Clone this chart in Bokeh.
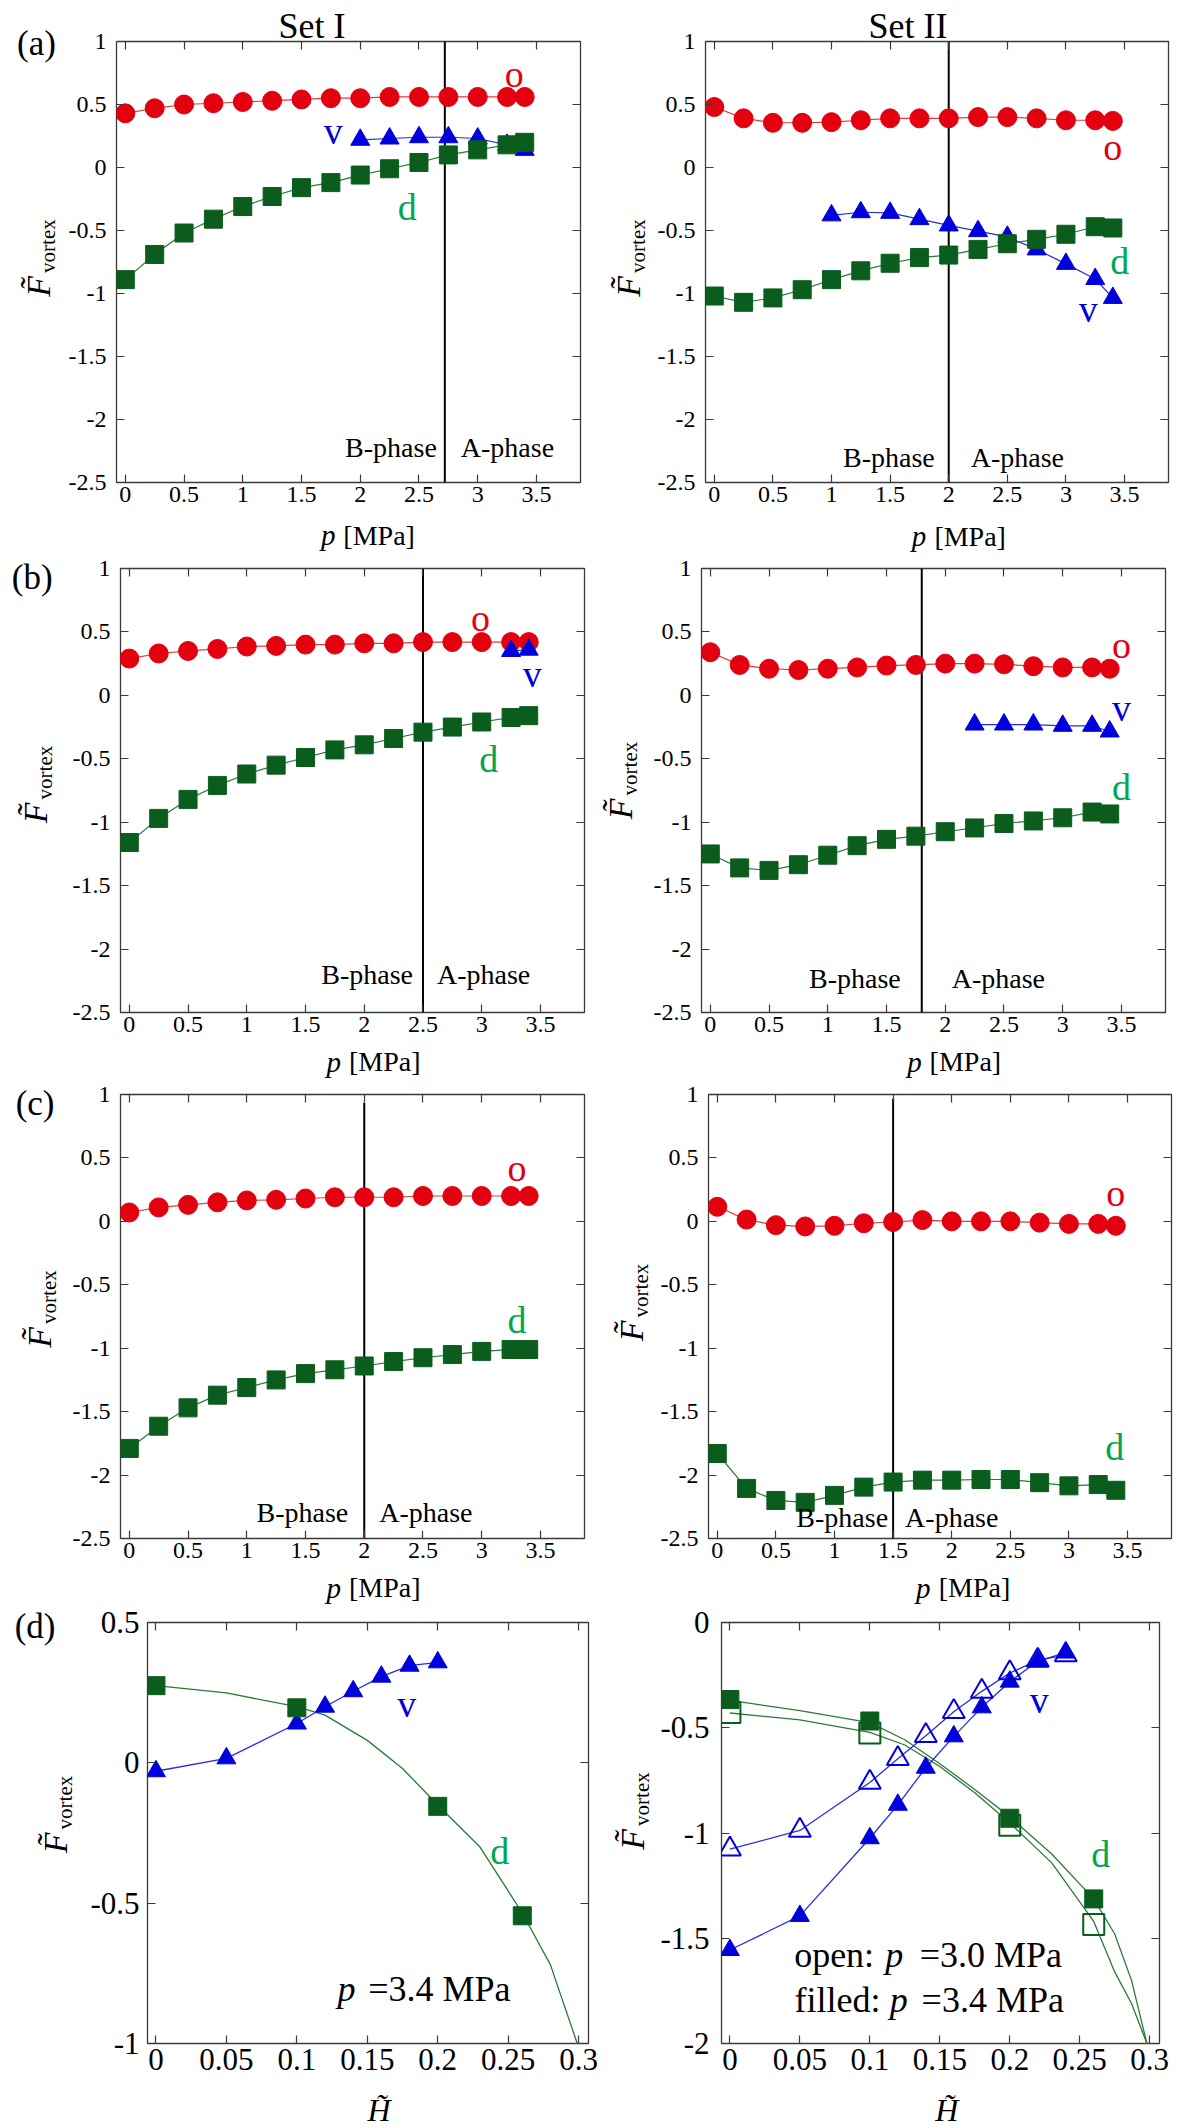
from math import pi

from bokeh.core.properties import value
from bokeh.embed import file_html
from bokeh.layouts import column, row
from bokeh.models import CustomJSTickFormatter, FixedTicker, LinearAxis, Range1d
from bokeh.plotting import figure
from bokeh.resources import INLINE

# ---------------------------------------------------------------- data
# pressure grid [MPa]
P = [0, 0.25, 0.5, 0.75, 1, 1.25, 1.5, 1.75, 2, 2.25, 2.5, 2.75, 3, 3.25, 3.4]

# (a) Set I
a1_o = [0.43, 0.47, 0.50, 0.51, 0.52, 0.53, 0.54, 0.55, 0.55, 0.56, 0.56, 0.56, 0.56, 0.56, 0.56]
a1_d = [-0.89, -0.69, -0.52, -0.41, -0.31, -0.23, -0.16, -0.12, -0.06, -0.01, 0.04, 0.10, 0.14, 0.18, 0.20]
a1_v_p = [2, 2.25, 2.5, 2.75, 3, 3.25, 3.4]
a1_v = [0.22, 0.23, 0.24, 0.24, 0.23, 0.18, 0.14]
a1_pab = 2.72

# (a) Set II
a2_o = [0.48, 0.39, 0.355, 0.355, 0.36, 0.375, 0.39, 0.39, 0.39, 0.40, 0.40, 0.39, 0.375, 0.375, 0.37]
a2_d = [-1.02, -1.07, -1.035, -0.97, -0.89, -0.82, -0.76, -0.715, -0.695, -0.65, -0.605, -0.57, -0.53, -0.47, -0.48]
a2_v_p = [1, 1.25, 1.5, 1.75, 2, 2.25, 2.5, 2.75, 3, 3.25, 3.4]
a2_v = [-0.38, -0.355, -0.36, -0.41, -0.46, -0.505, -0.55, -0.65, -0.765, -0.885, -1.035]
a2_pab = 2.0

# (b) Set I
b1_o = [0.29, 0.33, 0.35, 0.366, 0.385, 0.39, 0.40, 0.40, 0.41, 0.41, 0.42, 0.42, 0.42, 0.42, 0.42]
b1_d = [-1.16, -0.97, -0.82, -0.71, -0.62, -0.55, -0.49, -0.43, -0.39, -0.34, -0.29, -0.25, -0.21, -0.175, -0.16]
b1_v_p = [3.25, 3.4]
b1_v = [0.35, 0.36]
b1_pab = 2.5

# (b) Set II
b2_o = [0.34, 0.24, 0.21, 0.20, 0.21, 0.22, 0.235, 0.24, 0.25, 0.25, 0.245, 0.23, 0.22, 0.22, 0.21]
b2_d = [-1.25, -1.36, -1.38, -1.335, -1.26, -1.185, -1.135, -1.11, -1.075, -1.045, -1.01, -0.99, -0.965, -0.92, -0.935]
b2_v_p = [2.25, 2.5, 2.75, 3, 3.25, 3.4]
b2_v = [-0.23, -0.23, -0.23, -0.24, -0.24, -0.285]
b2_pab = 1.8

# (c) Set I
c1_o = [0.07, 0.11, 0.13, 0.15, 0.165, 0.17, 0.18, 0.19, 0.19, 0.19, 0.20, 0.20, 0.20, 0.20, 0.20]
c1_d = [-1.79, -1.615, -1.47, -1.37, -1.31, -1.25, -1.20, -1.17, -1.14, -1.105, -1.075, -1.05, -1.025, -1.01, -1.01]
c1_pab = 2.0

# (c) Set II
c2_o = [0.115, 0.014, -0.03, -0.04, -0.035, -0.015, -0.005, 0.01, 0.0, 0.0, 0.0, -0.01, -0.02, -0.02, -0.035]
c2_d = [-1.83, -2.105, -2.20, -2.215, -2.16, -2.095, -2.055, -2.04, -2.04, -2.035, -2.035, -2.06, -2.085, -2.075, -2.12]
c2_pab = 1.5

# (d) field dependence, Set I at p = 3.4 MPa
H_sq = [0, 0.1, 0.2, 0.26]
d1_d = [0.275, 0.196, -0.155, -0.545]
d1_H_tri = [0, 0.05, 0.1, 0.12, 0.14, 0.16, 0.18, 0.2]
d1_v = [-0.03, 0.016, 0.14, 0.20, 0.255, 0.307, 0.346, 0.358]
d1_fit_H = [0, 0.05, 0.1, 0.12, 0.15, 0.175, 0.2, 0.23, 0.26, 0.28, 0.299]
d1_fit_d = [0.275, 0.249, 0.20, 0.17, 0.08, -0.02, -0.15, -0.30, -0.535, -0.72, -1.0]

# (d) field dependence, Set II at p = 3.4 MPa (filled) and 3.0 MPa (open)
d2_H_tri = [0, 0.05, 0.1, 0.12, 0.14, 0.16, 0.18, 0.2, 0.22, 0.24]
d2_d_34 = [-0.366, -0.468, -0.93, -1.313]
d2_d_30 = [-0.427, -0.525, -0.963, -1.435]
d2_v_34 = [-1.556, -1.394, -1.025, -0.866, -0.69, -0.541, -0.403, -0.281, -0.184, -0.143]
d2_v_30 = [-1.077, -0.988, -0.76, -0.647, -0.538, -0.424, -0.327, -0.240, -0.18, -0.154]
d2_fit_H = [0, 0.05, 0.1, 0.125, 0.15, 0.175, 0.2, 0.23, 0.26, 0.275, 0.287, 0.298]
d2_fit_d_34 = [-0.37, -0.419, -0.476, -0.557, -0.671, -0.793, -0.923, -1.10, -1.313, -1.48, -1.70, -2.0]
d2_fit_d_30 = [-0.43, -0.463, -0.522, -0.582, -0.684, -0.809, -0.952, -1.142, -1.42, -1.66, -1.81, -2.0]

# axis ticks
P_TICKS = [0, 0.5, 1, 1.5, 2, 2.5, 3, 3.5]
F_TICKS = [-2.5, -2, -1.5, -1, -0.5, 0, 0.5, 1]
H_TICKS = [0, 0.05, 0.1, 0.15, 0.2, 0.25, 0.3]
D1_TICKS = [-1, -0.5, 0, 0.5]
D2_TICKS = [-2, -1.5, -1, -0.5, 0]

# ---------------------------------------------------------------- style
SERIF = "Liberation Serif"
RED = "#e3000f"
RED_LINE = "#e8383f"
GREEN = "#0b5d1e"
GREEN_LINE = "#2a7a38"
GREEN_TXT = "#00a84f"
BLUE = "#0000dc"
BLUE_LINE = "#2a2ae8"
FRAME = "#3a3a3a"

TICK_FMT = r"return tick.toFixed(2).replace(/\.?0+$/, '');"


def style_axis(axis, ticks, px, standoff, show_labels):
    axis.ticker = FixedTicker(ticks=ticks)
    axis.formatter = CustomJSTickFormatter(code=TICK_FMT)
    axis.axis_line_color = None
    axis.major_tick_in = 8
    axis.major_tick_out = 0
    axis.major_tick_line_color = FRAME
    axis.major_tick_line_width = 1.2
    axis.minor_tick_line_color = None
    axis.major_label_text_font = SERIF
    axis.major_label_text_font_style = "normal"
    if show_labels:
        axis.major_label_text_color = "black"
        axis.major_label_text_font_size = f"{px}px"
        axis.major_label_standoff = standoff
    else:
        # tick marks only on the opposite sides of the box
        axis.major_label_text_color = None
        axis.major_label_text_font_size = "1px"
        axis.major_label_standoff = 0


def make_panel(geo, xr, yr, xticks, yticks, px, xstand, ystand, title=None, title_offset=0):
    w, h, lb, fw, tb, fh = geo
    p = figure(width=w, height=h, x_range=Range1d(*xr), y_range=Range1d(*yr),
               output_backend="svg", toolbar_location=None, title=title,
               min_border_left=lb, min_border_right=w - lb - fw,
               min_border_top=tb, min_border_bottom=h - tb - fh)
    if title is not None:
        p.title.text_font = SERIF
        p.title.text_font_size = "36px"
        p.title.text_font_style = "normal"
        p.title.text_color = "black"
        p.title.align = "left"
        p.title.offset = title_offset
        p.title.standoff = -9
    p.xgrid.visible = False
    p.ygrid.visible = False
    p.outline_line_color = FRAME
    p.outline_line_width = 1.3
    style_axis(p.xaxis[0], xticks, px, xstand, True)
    style_axis(p.yaxis[0], yticks, px, ystand, True)
    top = LinearAxis()
    style_axis(top, xticks, px, 0, False)
    p.add_layout(top, "above")
    right = LinearAxis()
    style_axis(right, yticks, px, 0, False)
    p.add_layout(right, "right")
    return p


def strip(x0, y0, w, h):
    """Blank canvas for the texts around a panel, addressed in page pixels (y downwards)."""
    s = figure(width=w, height=h, x_range=Range1d(x0, x0 + w), y_range=Range1d(-(y0 + h), -y0),
               output_backend="svg", toolbar_location=None, title=None,
               x_axis_location=None, y_axis_location=None, min_border=0)
    s.outline_line_color = None
    s.grid.visible = False
    return s


def put(fig, x, y, txt, px, color="black", style="normal", align="center", angle=0.0, xoff=0):
    fig.text(x=[x], y=[y], text=[txt], text_font=value(SERIF), text_font_size=value(f"{px}px"),
             text_font_style=style, text_color=color, text_align=align,
             text_baseline="middle", angle=angle, x_offset=xoff)


def page_put(s, x, y, txt, px, **kw):
    put(s, x, -y, txt, px, **kw)


def block(bx, by, bw, bh, frame, lb, bb):
    fx, fy, fw, fh = frame
    sw = fx - lb - bx
    pw = bw - sw
    ph = (fy - by) + fh + bb
    left = strip(bx, by, sw, bh)
    bottom = strip(bx + sw, by + ph, pw, bh - ph)
    return left, bottom, (pw, ph, lb, fw, fy - by, fh)


def y_label(left, frame, bx_f, dy):
    fx, fy, fw, fh = frame
    y_f = fy + fh / 2 + dy + 38.75
    page_put(left, fx + bx_f - 11.5, y_f, "F\u0303", 34, style="italic", align="left", angle=pi / 2)
    page_put(left, fx + bx_f - 2, y_f - 23.8, "vortex", 21, align="left", angle=pi / 2)


def p_axis_label(bottom, frame, y_mid):
    fx, fy, fw, fh = frame
    cx = fx + fw / 2
    page_put(bottom, cx - 50, y_mid, "p", 29, style="italic", align="left")
    page_put(bottom, cx - 24, y_mid, "[MPa]", 28, align="left")


def h_axis_label(bottom, frame):
    fx, fy, fw, fh = frame
    page_put(bottom, fx + fw / 2 - 12, fy + fh + 66.5, "H\u0303", 32, style="italic")


P_XR = (-0.075, 3.875)
P_YR = (-2.5, 1.0)


def pressure_block(place, frame, o, d, vp, v, pab, pab_top, tags, phase, ylab, xlab_y,
                   title=None, title_offset=0):
    bx, by, bw, bh = place
    left, bottom, geo = block(bx, by, bw, bh, frame, 56, 32)
    p = make_panel(geo, P_XR, P_YR, P_TICKS, F_TICKS, 24, 4, 10, title, title_offset)
    p.segment(x0=[pab], y0=[P_YR[0]], x1=[pab], y1=[pab_top], line_color="black", line_width=2)
    p.line(P, o, line_color=RED_LINE, line_width=1.2)
    p.scatter(P, o, marker="circle", size=19, fill_color=RED, line_color=RED)
    if vp:
        p.line(vp, v, line_color=BLUE_LINE, line_width=1.2)
        p.scatter(vp, v, marker="triangle", size=19, fill_color=BLUE, line_color=BLUE)
    p.line(P, d, line_color=GREEN_LINE, line_width=1.2)
    p.scatter(P, d, marker="square", size=18, fill_color=GREEN, line_color=GREEN)
    for txt, x, y, col in tags:
        put(p, x, y, txt, 38, color=col)
    b_gap, a_gap, yb = phase
    put(p, pab, yb + 0.075, "B-phase", 28, align="right", xoff=-b_gap)
    put(p, pab, yb + 0.075, "A-phase", 28, align="left", xoff=a_gap)
    y_label(left, frame, *ylab)
    p_axis_label(bottom, frame, xlab_y)
    return left, p, bottom


# page placement of each block (x, y, width, height) and of its plot box (x, y, width, height)
PL_A, PR_A = (0, 0, 600, 552), (600, 0, 582, 552)
PL_B, PR_B = (0, 552, 600, 527), (600, 552, 582, 527)
PL_C, PR_C = (0, 1079, 600, 525), (600, 1079, 582, 525)
PL_D, PR_D = (0, 1604, 600, 524), (600, 1604, 582, 524)
F_AL, F_AR = (116, 41, 464, 441), (705, 41, 463, 441)
F_BL, F_BR = (120, 568, 464, 444), (701, 568, 464, 444)
F_CL, F_CR = (120, 1094, 464, 444), (708, 1094, 463, 444)
F_DL, F_DR = (147, 1622, 441, 421), (719, 1622, 440, 421)

aL = pressure_block(PL_A, F_AL, a1_o, a1_d, a1_v_p, a1_v, a1_pab, 1.0,
                    [("o", 3.31, 0.74, RED), ("v", 1.77, 0.29, BLUE), ("d", 2.40, -0.31, GREEN_TXT)],
                    (8, 16, -2.30), (-67, -4), 534.5, "Set I", 162)
aR = pressure_block(PR_A, F_AR, a2_o, a2_d, a2_v_p, a2_v, a2_pab, 1.0,
                    [("o", 3.40, 0.16, RED), ("d", 3.46, -0.74, GREEN_TXT), ("v", 3.19, -1.12, BLUE)],
                    (14, 22, -2.375), (-66, -4), 535.5, "Set II", 163)
bL = pressure_block(PL_B, F_BL, b1_o, b1_d, b1_v_p, b1_v, b1_pab, 1.0,
                    [("o", 2.99, 0.61, RED), ("v", 3.43, 0.17, BLUE), ("d", 3.06, -0.50, GREEN_TXT)],
                    (10, 14, -2.276), (-74, -6), 1061)
bR = pressure_block(PR_B, F_BR, b2_o, b2_d, b2_v_p, b2_v, b2_pab, 1.0,
                    [("o", 3.50, 0.40, RED), ("v", 3.50, -0.10, BLUE), ("d", 3.50, -0.72, GREEN_TXT)],
                    (21, 30, -2.31), (-70, -10), 1061)
cL = pressure_block(PL_C, F_CL, c1_o, c1_d, [], [], c1_pab, 0.935,
                    [("o", 3.30, 0.42, RED), ("d", 3.30, -0.78, GREEN_TXT)],
                    (16, 15, -2.372), (-70, -7.5), 1587)
cR = pressure_block(PR_C, F_CR, c2_o, c2_d, [], [], c2_pab, 0.966,
                    [("o", 3.40, 0.22, RED), ("d", 3.39, -1.78, GREEN_TXT)],
                    (5, 12, -2.41), (-66, -14), 1587)

# row letters
page_put(aL[0], 36, 43, "(a)", 35)
page_put(bL[0], 31.7, 576.7, "(b)", 35)
page_put(cL[0], 34.6, 1103, "(c)", 35)

# (d) Set I
H_XR = (-0.006, 0.307)
dL_left, dL_bottom, g_dl = block(*PL_D, F_DL, 62, 41)
pd1 = make_panel(g_dl, H_XR, (-1.0, 0.5), H_TICKS, D1_TICKS, 31, 5, 8)
pd1.line(d1_fit_H, d1_fit_d, line_color=GREEN_LINE, line_width=1.3)
pd1.line(d1_H_tri, d1_v, line_color=BLUE_LINE, line_width=1.3)
pd1.scatter(d1_H_tri, d1_v, marker="triangle", size=19, fill_color=BLUE, line_color=BLUE)
pd1.scatter(H_sq, d1_d, marker="square", size=18, fill_color=GREEN, line_color=GREEN)
put(pd1, 0.178, 0.21, "v", 38, color=BLUE)
put(pd1, 0.244, -0.315, "d", 38, color=GREEN_TXT)
put(pd1, 0.1288, -0.805, "p", 36, style="italic", align="left")
put(pd1, 0.1507, -0.805, "=3.4 MPa", 36, align="left")
y_label(dL_left, F_DL, -81, -18.5)
h_axis_label(dL_bottom, F_DL)
page_put(dL_left, 34.6, 1626, "(d)", 35)

# (d) Set II
dR_left, dR_bottom, g_dr = block(*PR_D, F_DR, 62, 41)
pd2 = make_panel(g_dr, H_XR, (-2.0, 0.0), H_TICKS, D2_TICKS, 31, 5, 12)
pd2.line(d2_fit_H, d2_fit_d_34, line_color=GREEN_LINE, line_width=1.3)
pd2.line(d2_fit_H, d2_fit_d_30, line_color=GREEN_LINE, line_width=1.3)
pd2.line(d2_H_tri, d2_v_30, line_color=BLUE_LINE, line_width=1.3)
pd2.line(d2_H_tri, d2_v_34, line_color=BLUE_LINE, line_width=1.3)
pd2.scatter(d2_H_tri, d2_v_34, marker="triangle", size=19, fill_color=BLUE, line_color=BLUE)
pd2.scatter(d2_H_tri, d2_v_30, marker="triangle", size=22, fill_color=None, line_color=BLUE, line_width=2)
pd2.scatter(H_sq, d2_d_34, marker="square", size=18, fill_color=GREEN, line_color=GREEN)
pd2.scatter(H_sq, d2_d_30, marker="square", size=21, fill_color=None, line_color=GREEN, line_width=2)
put(pd2, 0.221, -0.37, "v", 38, color=BLUE)
put(pd2, 0.265, -1.10, "d", 38, color=GREEN_TXT)
put(pd2, 0.0459, -1.579, "open:", 36, align="left")
put(pd2, 0.1111, -1.579, "p", 36, style="italic", align="left")
put(pd2, 0.1357, -1.579, "=3.0 MPa", 36, align="left")
put(pd2, 0.0462, -1.792, "filled:", 36, align="left")
put(pd2, 0.1143, -1.792, "p", 36, style="italic", align="left")
put(pd2, 0.1370, -1.792, "=3.4 MPa", 36, align="left")
y_label(dR_left, F_DR, -76, -22)
h_axis_label(dR_bottom, F_DR)

dL = (dL_left, pd1, dL_bottom)
dR = (dR_left, pd2, dR_bottom)


def assemble(b):
    left, panel, bottom = b
    return row(left, column(panel, bottom))


layout = column(
    row(assemble(aL), assemble(aR)),
    row(assemble(bL), assemble(bR)),
    row(assemble(cL), assemble(cR)),
    row(assemble(dL), assemble(dR)),
)

with open("out.html", "w") as f:
    f.write(file_html(layout, INLINE))
